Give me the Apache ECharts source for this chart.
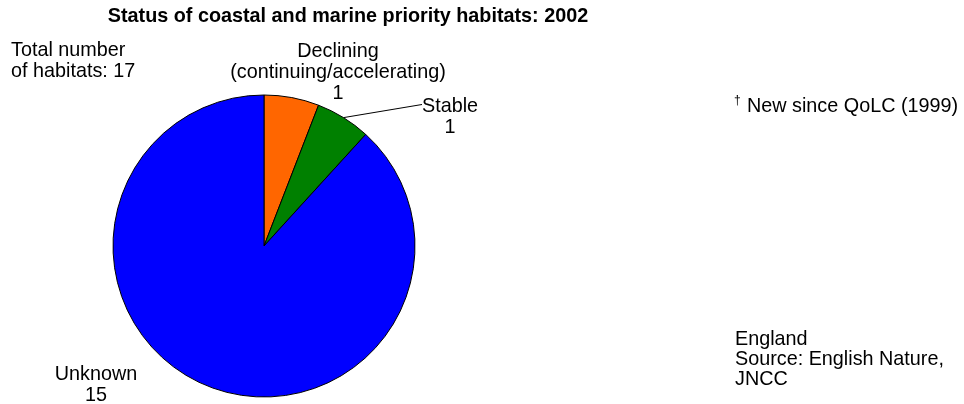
<!DOCTYPE html>
<html><head><meta charset="utf-8">
<script src="https://cdn.jsdelivr.net/npm/echarts@6/dist/echarts.min.js"></script>
<style>html,body{margin:0;padding:0;background:#fff}#c{width:964px;height:404px}</style>
</head><body><div id="c"></div>
<script>
const categories = ['Declining\n(continuing/accelerating)', 'Stable', 'Unknown'];
const values = [1, 1, 15];
const colors = ['#FF6600', '#008000', '#0000FF'];
const titleText = 'Status of coastal and marine priority habitats: 2002';
const totalNote = 'Total number\nof habitats: 17';
const dagger = '\u2020';
const footnote = 'New since QoLC (1999)';
const sourceNote = 'England\nSource: English Nature,\nJNCC';

const FONT = 'Arial, "Liberation Sans", sans-serif';
const FS = 19.8;
const labelPos = [{x: 338, y: 41.5}, {x: 450, y: 96.5}, {x: 96, y: 364}];

const chart = echarts.init(document.getElementById('c'), null, {renderer: 'canvas'});
chart.setOption({
  animation: false,
  backgroundColor: '#fff',
  graphic: [
    {type: 'text', x: 348, y: 6.5, style: {text: titleText, fill: '#000', font: 'bold 19.8px ' + FONT, align: 'center', verticalAlign: 'top'}},
    {type: 'text', x: 11, y: 40.5, style: {text: totalNote, fill: '#000', font: FS + 'px ' + FONT, lineHeight: 21, align: 'left', verticalAlign: 'top'}},
    {type: 'text', x: 734, y: 95, style: {text: dagger, fill: '#000', font: '12px ' + FONT, align: 'left', verticalAlign: 'top'}},
    {type: 'text', x: 747, y: 96.5, style: {text: footnote, fill: '#000', font: FS + 'px ' + FONT, lineHeight: 21, align: 'left', verticalAlign: 'top'}},
    {type: 'text', x: 735, y: 330, style: {text: sourceNote, fill: '#000', font: FS + 'px ' + FONT, lineHeight: 20, align: 'left', verticalAlign: 'top'}}
  ],
  series: [{
    type: 'pie',
    center: [264, 246],
    radius: 151,
    startAngle: 90,
    clockwise: true,
    avoidLabelOverlap: false,
    itemStyle: {borderColor: '#000', borderWidth: 1},
    emphasis: {disabled: true},
    label: {show: true, formatter: '{b}\n{c}', fontFamily: FONT, fontSize: FS, lineHeight: 21, color: '#000', align: 'center'},
    labelLine: {show: true, length: 20, length2: 40, lineStyle: {color: '#000', width: 1}},
    labelLayout: function (p) {
      const pos = labelPos[p.dataIndex];
      const out = {x: pos.x, y: pos.y, align: 'center', verticalAlign: 'top'};
      if (p.dataIndex === 1 && p.labelLinePoints) {
        const s = p.labelLinePoints[0];
        const e = [pos.x - 28, pos.y + 8];
        out.labelLinePoints = [s, s, e];
      }
      return out;
    },
    data: categories.map(function (n, i) {
      return {name: n, value: values[i], itemStyle: {color: colors[i]}, labelLine: {show: i === 1}};
    })
  }]
});
</script></body></html>
